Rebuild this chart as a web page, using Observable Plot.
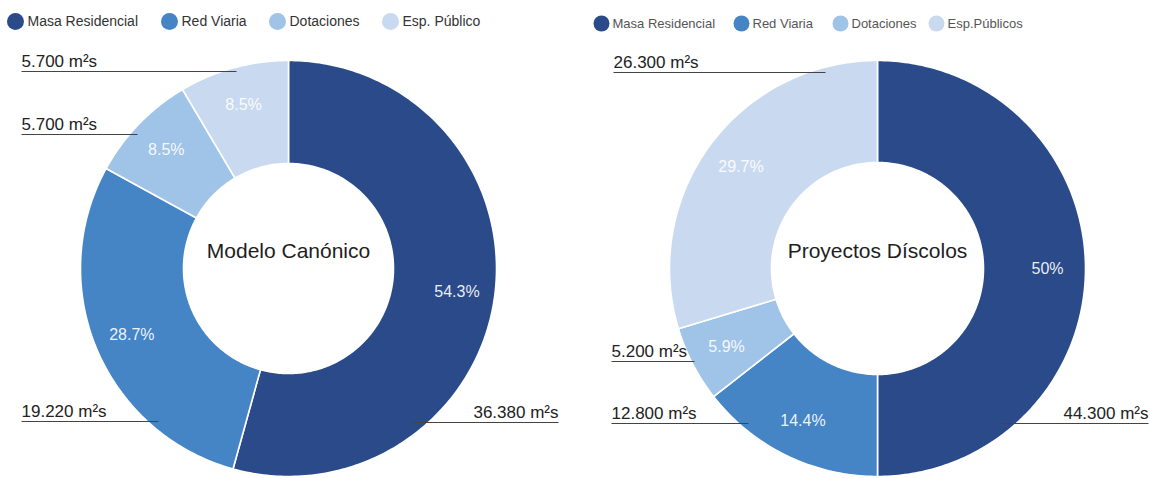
<!DOCTYPE html>
<html><head><meta charset="utf-8">
<script src="https://cdn.jsdelivr.net/npm/d3@7"></script>
<script src="https://cdn.jsdelivr.net/npm/@observablehq/plot@0.6"></script>
<style>
html,body{margin:0;padding:0;background:#fff;}
#chart{width:1150px;height:478px;}
</style>
</head><body><div id="chart"></div>
<script>
// ---- DATA ----
const categoriesLeft = ["Masa Residencial", "Red Viaria", "Dotaciones", "Esp. Público"];
const categoriesRight = ["Masa Residencial", "Red Viaria", "Dotaciones", "Esp.Públicos"];
const valuesLeft = [36380, 19220, 5700, 5700];
const valuesRight = [44300, 12800, 5200, 26300];
const titles = ["Modelo Canónico", "Proyectos Díscolos"];
const unit = " m²s";

// ---- STYLE / LAYOUT ----
const colors = ["#2a4a89", "#4585c5", "#9fc4e8", "#c9d9f0"];
const FONT = "Liberation Sans, Arial, Helvetica, sans-serif";
const panels = [
  {
    cats: categoriesLeft, vals: valuesLeft, title: titles[0],
    cx: 288, cy: 268, R: 208, r: 105, labelR: 170,
    legendTextX: [27, 181, 289, 402], legendY: 21, legendSize: 14, legendColor: "#333", dotR: 8.5, dotGap: 12,
    ann: [
      {y: 422, x0: 412, x1: 558, anchor: "end"},
      {y: 421, x0: 21, x1: 158, anchor: "start"},
      {y: 134, x0: 21, x1: 137, anchor: "start"},
      {y: 71, x0: 21, x1: 236, anchor: "start"}
    ]
  },
  {
    cats: categoriesRight, vals: valuesRight, title: titles[1],
    cx: 877, cy: 268, R: 208, r: 106, labelR: 170,
    legendTextX: [612, 752, 851, 947], legendY: 23, legendSize: 13, legendColor: "#555", dotR: 8, dotGap: 11,
    ann: [
      {y: 423, x0: 999, x1: 1148, anchor: "end"},
      {y: 423, x0: 611, x1: 748, anchor: "start"},
      {y: 361, x0: 611, x1: 694, anchor: "start"},
      {y: 72, x0: 613, x1: 825, anchor: "start"}
    ]
  }
];

const pctFmt = d3.format(".1~f");
const numFmt = d3.formatLocale({decimal: ",", thousands: ".", grouping: [3], currency: ["", "€"]}).format(",");

const marks = [];
for (const p of panels) {
  const total = d3.sum(p.vals);
  const arcs = d3.pie().sort(null).value(d => d)(p.vals);
  const pt = (a, rad) => ({x: p.cx + rad * Math.sin(a), y: p.cy - rad * Math.cos(a)});
  arcs.forEach((a, i) => {
    const n = Math.max(8, Math.ceil((a.endAngle - a.startAngle) * 60));
    const pts = [];
    for (let k = 0; k <= n; k++) pts.push(pt(a.startAngle + (a.endAngle - a.startAngle) * k / n, p.R));
    for (let k = n; k >= 0; k--) pts.push(pt(a.startAngle + (a.endAngle - a.startAngle) * k / n, p.r));
    marks.push(Plot.line(pts, {x: "x", y: "y", fill: colors[i], stroke: "#fff", strokeWidth: 1.6, curve: "linear-closed"}));
  });
  // percentage labels
  const pl = arcs.map((a, i) => ({...pt((a.startAngle + a.endAngle) / 2, p.labelR), t: pctFmt(p.vals[i] / total * 100) + "%"}));
  marks.push(Plot.text(pl, {x: "x", y: "y", text: "t", fill: "#fff", fillOpacity: 0.92, fontSize: 16, fontFamily: FONT, textAnchor: "middle", lineAnchor: "middle"}));
  // center title
  marks.push(Plot.text([p.title], {x: () => p.cx, y: () => p.cy - 17, text: d => d, fontSize: 21, fontFamily: FONT, fill: "#1e1e1e", textAnchor: "middle", lineAnchor: "middle"}));
  // value annotations with leader lines
  const ann = p.ann.map((a, i) => ({...a, t: numFmt(p.vals[i]) + unit}));
  marks.push(Plot.link(ann, {x1: "x0", x2: "x1", y1: "y", y2: "y", stroke: "#444", strokeWidth: 1.2}));
  marks.push(Plot.text(ann.filter(a => a.anchor === "start"), {x: "x0", y: d => d.y - 10, text: "t", fontSize: 17, fontFamily: FONT, fill: "#222", textAnchor: "start", lineAnchor: "middle"}));
  marks.push(Plot.text(ann.filter(a => a.anchor === "end"), {x: "x1", y: d => d.y - 10, text: "t", fontSize: 17, fontFamily: FONT, fill: "#222", textAnchor: "end", lineAnchor: "middle"}));
  // legend
  const leg = p.cats.map((c, i) => ({c, i, x: p.legendTextX[i]}));
  marks.push(Plot.dot(leg, {x: d => d.x - p.dotGap, y: () => p.legendY, r: p.dotR, fill: d => colors[d.i], stroke: null}));
  marks.push(Plot.text(leg, {x: "x", y: () => p.legendY, text: "c", fontSize: p.legendSize, fontFamily: FONT, fill: p.legendColor, textAnchor: "start", lineAnchor: "middle"}));
}

const chart = Plot.plot({
  width: 1150, height: 478, margin: 0,
  x: {domain: [0, 1150], range: [0, 1150], axis: null},
  y: {domain: [0, 478], range: [0, 478], axis: null},
  color: {type: "identity"},
  style: {background: "#fff", fontFamily: FONT, overflow: "visible"},
  marks
});
document.getElementById("chart").appendChild(chart);
</script>
</body></html>
